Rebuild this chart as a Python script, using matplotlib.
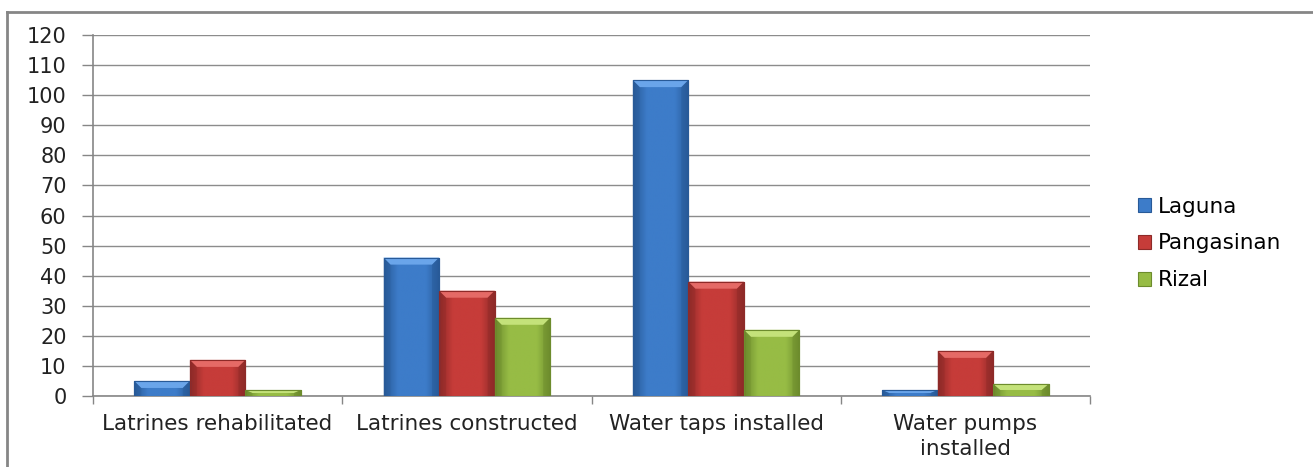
import matplotlib
matplotlib.use("Agg")
import matplotlib.pyplot as plt
import numpy as np
from matplotlib.patches import Polygon
from matplotlib.lines import Line2D
from matplotlib.colors import LinearSegmentedColormap

categories = ["Latrines rehabilitated", "Latrines constructed", "Water taps installed", "Water pumps\ninstalled"]
series_names = ["Laguna", "Pangasinan", "Rizal"]
laguna = [5, 46, 105, 2]
pangasinan = [12, 35, 38, 15]
rizal = [2, 26, 22, 4]
yticks = list(range(0, 121, 10))

values = [laguna, pangasinan, rizal]
# (main, light, dark)
palette = [("#3d7cc9", "#6aa5ea", "#285a98"),
           ("#c63c39", "#e56a66", "#8e2a28"),
           ("#97bc45", "#c4e27a", "#6d8c2d")]

plt.rcParams['font.family'] = ['DejaVu Sans']
FS = 15.5
W, H = 1313, 467
fig = plt.figure(figsize=(W/100, H/100), dpi=100)
ax = fig.add_axes([93/W, 1-396/H, (1090-93)/W, (396-35)/H])

ax.set_xlim(0, len(categories))
ax.set_ylim(0, 120)
ax.set_yticks(yticks)
ax.set_yticklabels([str(t) for t in yticks], fontsize=15, color="#222222")
ax.yaxis.grid(True, color="#8c8c8c", linewidth=1.0)
ax.set_axisbelow(True)
ax.set_xticks(np.arange(len(categories)+1))
ax.set_xticklabels([])
ax.set_xticks(np.arange(len(categories)) + 0.5, minor=True)
ax.set_xticklabels(categories, minor=True, fontsize=FS, color="#222222", linespacing=1.3)
ax.tick_params(axis='x', which='minor', length=0, pad=13)
ax.tick_params(axis='x', which='major', length=6, color="#868686", width=1)
ax.tick_params(axis='y', length=8, color="#868686", width=1, pad=11)
for s in ["top", "right"]:
    ax.spines[s].set_visible(False)
for s in ["left", "bottom"]:
    ax.spines[s].set_color("#868686")
    ax.spines[s].set_linewidth(1.2)

bw = 0.223
ppx = 249.25  # pixels per category
ppy = 361/120.0
bev_x = 7/ppx
bev_y = 7/ppy
for si, (vals, (cmain, clight, cdark)) in enumerate(zip(values, palette)):
    xs = np.arange(len(categories)) + 0.5 + (si - 1) * bw
    bars = ax.bar(xs, vals, width=bw, color=cmain, edgecolor=cdark, linewidth=0.8,
                  zorder=3, label=series_names[si])
    cmap = LinearSegmentedColormap.from_list("g", [cdark, cmain, cmain, cmain, cdark])
    for b in bars:
        x0, y0 = b.get_x(), b.get_y()
        w, h = b.get_width(), b.get_height()
        grad = np.linspace(0, 1, 100).reshape(1, -1)
        im = ax.imshow(grad, extent=[x0, x0+w, y0, y0+h], aspect='auto', cmap=cmap,
                       zorder=3.1, interpolation='bilinear')
        im.set_clip_path(b)
        by = min(bev_y, h/2)
        bx = min(bev_x, w/2)
        top = Polygon([[x0, y0+h], [x0+w, y0+h], [x0+w-bx, y0+h-by], [x0+bx, y0+h-by]],
                      closed=True, facecolor=clight, edgecolor='none', zorder=3.2)
        ax.add_patch(top)
        ax.add_patch(Polygon([[x0, y0+h], [x0+bx, y0+h-by], [x0+bx, y0], [x0, y0]],
                             closed=True, facecolor=cdark, alpha=0.35, edgecolor='none', zorder=3.2))
        ax.add_patch(Polygon([[x0+w, y0+h], [x0+w-bx, y0+h-by], [x0+w-bx, y0], [x0+w, y0]],
                             closed=True, facecolor=cdark, alpha=0.45, edgecolor='none', zorder=3.2))
        ax.add_patch(plt.Rectangle((x0, y0), w, h, fill=False, edgecolor=cdark, linewidth=0.8, zorder=3.3))

handles = [plt.Rectangle((0, 0), 1, 1, facecolor=p[0], edgecolor=p[2], linewidth=0.8) for p in palette]
fig.legend(handles, series_names, loc="upper left", bbox_to_anchor=(1129/W, 1-188/H),
           frameon=False, fontsize=FS, handlelength=0.62, handleheight=0.62,
           handletextpad=0.3, labelspacing=0.78, borderaxespad=0)

# outer chart-area border (top and left visible)
fig.add_artist(Line2D([7/W, 1312/W], [1-12/H, 1-12/H], transform=fig.transFigure,
                      color="#868686", linewidth=2))
fig.add_artist(Line2D([7/W, 7/W], [0, 1-12/H], transform=fig.transFigure,
                      color="#868686", linewidth=2))

fig.savefig("out.png", dpi=100)
